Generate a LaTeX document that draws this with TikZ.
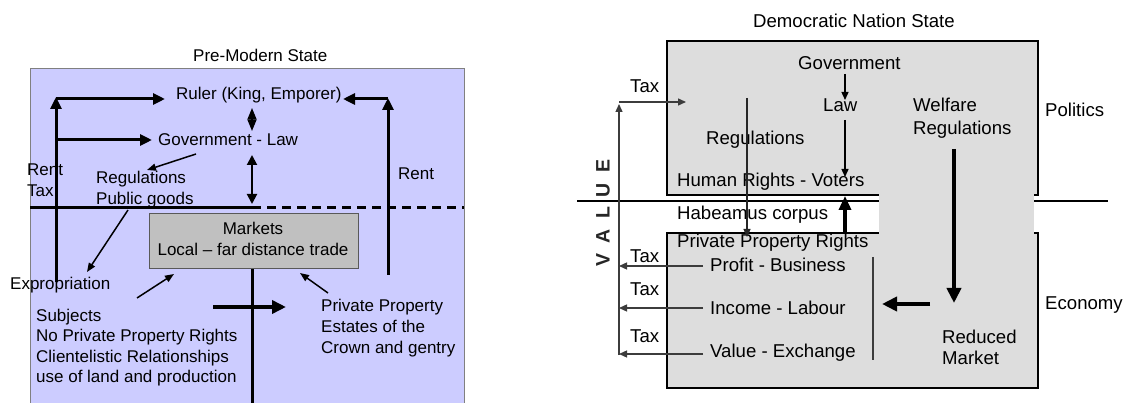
\documentclass[tikz,border=0pt]{standalone}
\usepackage{fontspec}
\setmainfont{Liberation Sans}
\usetikzlibrary{arrows.meta}
\definecolor{lavender}{RGB}{204,204,255}
\definecolor{mktgray}{RGB}{192,192,192}
\definecolor{boxgray}{RGB}{221,221,221}
\definecolor{linegray}{RGB}{60,60,60}

\begin{document}
\begin{tikzpicture}[x=1pt,y=-1pt,
  ltxt/.style={font=\fontsize{17}{20}\selectfont, inner sep=0pt, anchor=base west},
  ctxt/.style={font=\fontsize{17}{20}\selectfont, inner sep=0pt, anchor=base},
  rtxt/.style={font=\fontsize{18.6}{21}\selectfont, inner sep=0pt, anchor=base west},
  heavy/.style={line width=3pt, -{Triangle[length=12pt,width=11pt]}},
  heavyline/.style={line width=3pt},
  slim/.style={line width=1.5pt, -{Triangle[length=9pt,width=7pt]}},
  bigarrow/.style={line width=4.5pt, -{Triangle[length=15pt,width=14pt]}},
  thinarrow/.style={line width=1.4pt, draw=black, -{Triangle[length=8pt,width=7pt]}},
  taxarrow/.style={line width=1.4pt, draw=linegray, -{Triangle[length=8pt,width=7pt]}},
  nationbox/.style={fill=boxgray, draw=black, line width=1.6pt}
]
\useasboundingbox (0,0) rectangle (1124,403);
\fill[white] (0,0) rectangle (1124,403);

% ================= Pre-modern state =================
\fill[lavender] (30,68) rectangle (464,403);
\draw[gray, line width=0.8pt] (30,403) -- (30,68) -- (464,68) -- (464,403);

\node[ltxt] (pmtitle) at (193,62) {Pre-Modern State};

\node[ltxt] (ruler) at (176,100) {Ruler (King, Emporer)};
\node[ltxt] (govlaw) at (158,146) {Government - Law};
\node[ltxt] (renttl) at (27,176) {Rent};
\node[ltxt] (taxl) at (27,197) {Tax};
\node[ltxt] (regs) at (96,184) {Regulations};
\node[ltxt] (pubg) at (96,205) {Public goods};
\node[ltxt] (rentr) at (398,180) {Rent};

% markets box
\node[draw=black!65, fill=mktgray, line width=0.8pt, minimum width=209pt,
      minimum height=55pt, inner sep=0pt, anchor=north west] (markets) at (149,213) {};
\node[ctxt] (mkt1) at (253,235) {Markets};
\node[ctxt] (mkt2) at (253,256) {Local – far distance trade};

\node[ltxt] (expro) at (10,290) {Expropriation};
\node[ltxt] (subj1) at (36,321) {Subjects};
\node[ltxt] (subj2) at (36,341) {No Private Property Rights};
\node[ltxt] (subj3) at (36,362) {Clientelistic Relationships};
\node[ltxt] (subj4) at (36,382) {use of land and production};
\node[ltxt] (pp1) at (321,312) {Private Property};
\node[ltxt] (pp2) at (321,332) {Estates of the};
\node[ltxt] (pp3) at (321,353) {Crown and gentry};

% tax and rent flows
\coordinate (lfoot) at (56,282);
\coordinate (ltop) at (56,97);
\coordinate (lrow1) at (56,99);
\coordinate (lrow2) at (56,140);
\coordinate (rulerin) at (165,99);
\coordinate (govin) at (152,140);
\draw[heavy] (lfoot) -- (ltop);
\draw[heavy] (lrow1) -- (rulerin);
\draw[heavy] (lrow2) -- (govin);

\coordinate (rfoot) at (388,275);
\coordinate (rtop) at (388,98);
\coordinate (rcorner) at (388,99);
\coordinate (rulerright) at (343,99);
\draw[heavy] (rfoot) -- (rtop);
\draw[heavy] (rcorner) -- (rulerright);

% ruler <-> government <-> divide
\coordinate (dia1) at (252,108);
\coordinate (dia2) at (252,131);
\draw[line width=1.5pt, {Triangle[length=11.5pt,width=9pt]}-{Triangle[length=11.5pt,width=9pt]}] (dia1) -- (dia2);
\coordinate (gl1) at (252,155);
\coordinate (gl2) at (252,204);
\draw[line width=2pt, {Triangle[length=10pt,width=10pt]}-{Triangle[length=10pt,width=10pt]}] (gl1) -- (gl2);

% dividing line
\coordinate (divl) at (30,208);
\coordinate (divm) at (252,208);
\coordinate (divr) at (464,208);
\draw[heavyline] (divl) -- (divm);
\draw[heavyline, dash pattern=on 9pt off 6pt] (divm) -- (divr);

% thin arrows
\coordinate (ga) at (196,154);
\coordinate (gb) at (147,170);
\draw[slim] (ga) -- (gb);
\coordinate (ea) at (128,210);
\coordinate (eb) at (87,272);
\draw[slim] (ea) -- (eb);
\coordinate (sa) at (137,298);
\coordinate (sb) at (174,274);
\draw[slim] (sa) -- (sb);
\coordinate (pa) at (328,293);
\coordinate (pb) at (300,273);
\draw[slim] (pa) -- (pb);

% lower cross
\coordinate (mkbot) at (252,268);
\coordinate (mkfoot) at (252,403);
\draw[heavyline] (markets.south -| mkbot) -- (mkfoot);
\coordinate (ha) at (213,307);
\coordinate (hb) at (286,307);
\draw[line width=3.5pt, -{Triangle[length=14pt,width=13pt]}] (ha) -- (hb);

% ================= Democratic nation state =================
\node[rtxt] (dntitle) at (753,28) {Democratic Nation State};

\draw[line width=2pt] (577,201) -- (1108,201);
\path[nationbox] (667,41) rectangle (1038,195);
\path[nationbox] (667,233) rectangle (1038,388);
\fill[boxgray] (879,190) rectangle (1034,237);

\node[rtxt] (govt) at (798,70) {Government};
\node[rtxt] (law) at (823,112) {Law};
\node[rtxt] (regr) at (706,145) {Regulations};
\node[rtxt] (welf1) at (913,112) {Welfare};
\node[rtxt] (welf2) at (913,135) {Regulations};
\node[rtxt] (politics) at (1045,117) {Politics};
\node[rtxt] (hr) at (677,187) {Human Rights - Voters};
\node[rtxt] (hab) at (677,220) {Habeamus corpus};
\node[rtxt] (ppr) at (677,248) {Private Property Rights};
\node[rtxt] (tax0) at (630,93) {Tax};
\node[rtxt] (tax1) at (630,262) {Tax};
\node[rtxt] (tax2) at (630,295) {Tax};
\node[rtxt] (tax3) at (630,342) {Tax};
\node[rtxt] (profit) at (710,272) {Profit - Business};
\node[rtxt] (income) at (710,314) {Income - Labour};
\node[rtxt] (valex) at (710,357) {Value - Exchange};
\node[rtxt] (red1) at (942,343) {Reduced};
\node[rtxt] (red2) at (942,364) {Market};
\node[rtxt] (economy) at (1045,309) {Economy};
\node[font=\fontsize{19.5}{20}\selectfont\bfseries, inner sep=0pt, rotate=90, text=black!85]
  (value) at (603,213) {V\hspace{10pt}A\hspace{10pt}L\hspace{10pt}U\hspace{10pt}E};

% government -> law -> rights
\coordinate (g1) at (845,74);
\coordinate (g2) at (845,100);
\draw[thinarrow] (g1) -- (g2);
\coordinate (l1) at (845,120);
\coordinate (l2) at (845,177);
\draw[thinarrow] (l1) -- (l2);

% regulations reach down to property rights
\coordinate (rg1) at (747,98);
\coordinate (rg2) at (747,237);
\draw[thinarrow, draw=black!85] (rg1) -- (rg2);

% habeas corpus
\coordinate (hc1) at (845,233);
\coordinate (hc2) at (845,196);
\draw[line width=3.5pt, -{Triangle[length=14pt,width=12pt]}] (hc1) -- (hc2);

% welfare regulation and reduced market
\coordinate (w1) at (954,149);
\coordinate (w2) at (954,303);
\draw[bigarrow] (w1) -- (w2);
\coordinate (m1) at (930,304);
\coordinate (m2) at (882,304);
\draw[bigarrow] (m1) -- (m2);
\coordinate (sep1) at (873,257);
\coordinate (sep2) at (873,360);
\draw[line width=1.4pt, draw=linegray] (sep1) -- (sep2);

% value line and taxes
\coordinate (vbot) at (619,355);
\coordinate (vtop) at (619,104);
\coordinate (vcorner) at (619,102);
\coordinate (taxin) at (686,102);
\draw[taxarrow] (vbot) -- (vtop);
\draw[taxarrow] (vcorner) -- (taxin);
\coordinate (t1) at (703,266);
\coordinate (t2) at (703,308);
\coordinate (t3) at (703,354);
\draw[taxarrow] (t1) -- (t1 -| vbot);
\draw[taxarrow] (t2) -- (t2 -| vbot);
\draw[taxarrow] (t3) -- (t3 -| vbot);
\end{tikzpicture}
\end{document}
